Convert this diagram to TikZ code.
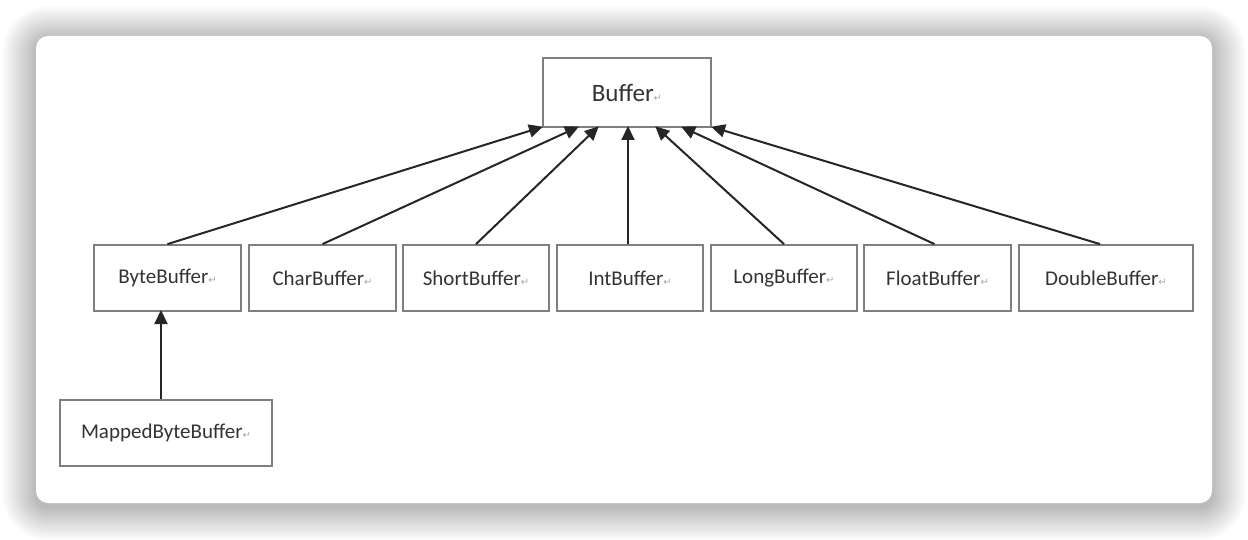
\documentclass[tikz,border=0pt]{standalone}
\usepackage{fontspec}
\setmainfont{Carlito}
\newfontfamily\symfont{DejaVu Sans}
\usetikzlibrary{arrows.meta}
\definecolor{boxgray}{HTML}{7F7F7F}
\definecolor{txtgray}{HTML}{333333}
\definecolor{retgray}{HTML}{A8A8A8}
\newcommand{\retmark}{{\color{retgray}\symfont\fontsize{10}{11}\selectfont ↵}}
\tikzset{
  cls/.style={draw=boxgray, line width=1.8pt, fill=white, text=txtgray, inner sep=0pt, font=\fontsize{21}{24}\selectfont},
  inh/.style={draw=black!85, line width=2pt, -{Triangle[length=14pt,width=13pt]}, shorten >=-1pt},
}
\begin{document}
\begin{tikzpicture}[x=1pt,y=-1pt]
\useasboundingbox (0,0) rectangle (1248,540);
\fill[white] (0,0) rectangle (1248,540);
% shadow
\foreach \i in {1,...,34}{
  \fill[black, opacity=0.007, rounded corners={12+\i}] (36-\i,36-\i+4) rectangle (1212+\i,503+\i+4);
}
\fill[white, rounded corners=12] (36,36) rectangle (1212,503);
% nodes
\node[cls, minimum width=168pt, minimum height=69pt, font=\fontsize{25}{30}\selectfont] (buf) at (627,92.5) {Buffer\retmark};
\node[cls, minimum width=147pt, minimum height=66pt] (byte) at (167.5,278) {ByteBuffer\retmark};
\node[cls, minimum width=147pt, minimum height=66pt] (char) at (322.5,278) {CharBuffer\retmark};
\node[cls, minimum width=146pt, minimum height=66pt] (short) at (476,278) {ShortBuffer\retmark};
\node[cls, minimum width=146pt, minimum height=66pt] (int) at (630,278) {IntBuffer\retmark};
\node[cls, minimum width=146pt, minimum height=66pt] (long) at (784,278) {LongBuffer\retmark};
\node[cls, minimum width=147pt, minimum height=66pt] (float) at (937.5,278) {FloatBuffer\retmark};
\node[cls, minimum width=174pt, minimum height=66pt] (double) at (1106,278) {DoubleBuffer\retmark};
\node[cls, minimum width=212pt, minimum height=66pt] (mapped) at (166,433) {MappedByteBuffer\retmark};
% connectors
\coordinate (t1) at (542,127);
\coordinate (t2) at (578,127);
\coordinate (t3) at (598,127);
\coordinate (t4) at (628,127);
\coordinate (t5) at (656,127);
\coordinate (t6) at (682,127);
\coordinate (t7) at (712,127);
\coordinate (bb) at (161,311);
\draw[inh] (byte.north) -- (t1);
\draw[inh] (char.north) -- (t2);
\draw[inh] (short.north) -- (t3);
\draw[inh] (int.north -| t4) -- (t4);
\draw[inh] (long.north) -- (t5);
\draw[inh] ([xshift=-3pt]float.north) -- (t6);
\draw[inh] ([xshift=-6pt]double.north) -- (t7);
\draw[inh] (mapped.north -| bb) -- (bb);
\end{tikzpicture}
\end{document}
